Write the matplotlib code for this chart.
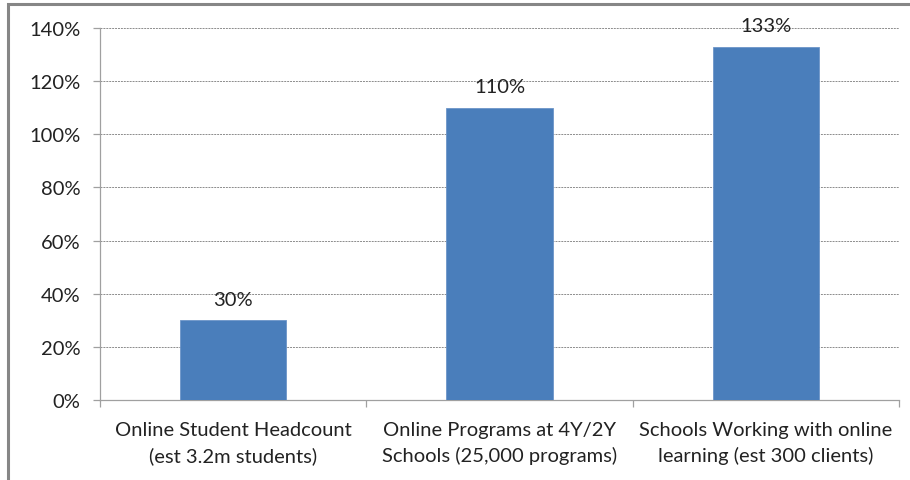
import matplotlib
matplotlib.use("Agg")
import matplotlib.pyplot as plt
from matplotlib.patches import Rectangle
from matplotlib.ticker import MultipleLocator, FuncFormatter, FixedLocator

categories = ["Online Student Headcount\n(est 3.2m students)",
              "Online Programs at 4Y/2Y\nSchools (25,000 programs)",
              "Schools Working with online\nlearning (est 300 clients)"]
values = [30, 110, 133]
value_labels = ["30%", "110%", "133%"]

plt.rcParams['font.family'] = ['Lato', 'DejaVu Sans']
FS = 14.5

fig = plt.figure(figsize=(9.10, 4.81), dpi=100)
# outer chart border (partly cropped)
fig.patches.append(Rectangle((8/910, -0.1), 1.2, 1 - 5/481 + 0.1, transform=fig.transFigure,
                             fill=False, edgecolor='#868686', linewidth=2.2))

ax = fig.add_axes([100/910, 1 - 401/481, 799/910, 372/481])
x = list(range(len(values)))
ax.bar(x, values, width=0.4, color='#4A7EBB', edgecolor='#6C95C8', linewidth=0.6, zorder=3)
for xi, v, lab in zip(x, values, value_labels):
    ax.text(xi, v + 4.6, lab, ha='center', va='bottom', fontsize=FS, color='#222222', zorder=4)

ax.set_xlim(-0.5, 2.5)
ax.set_ylim(0, 140)
ax.yaxis.set_major_locator(MultipleLocator(20))
ax.yaxis.set_major_formatter(FuncFormatter(lambda v, p: f"{int(v)}%"))
ax.grid(axis='y', color='#8C8C8C', linestyle=(0, (2, 1)), linewidth=0.7, zorder=0)

ax.set_xticks(x)
ax.set_xticklabels(categories, fontsize=FS, color='#222222', linespacing=1.55)
ax.tick_params(axis='x', length=0, pad=15)
ax.xaxis.set_minor_locator(FixedLocator([-0.5, 0.5, 1.5, 2.5]))
ax.tick_params(axis='x', which='minor', length=5, color='#A0A0A0', width=0.9)
ax.tick_params(axis='y', length=5, color='#A0A0A0', width=0.9, labelsize=FS, labelcolor='#222222', pad=9)

for s in ['top', 'right']:
    ax.spines[s].set_visible(False)
for s in ['left', 'bottom']:
    ax.spines[s].set_color('#A0A0A0')
    ax.spines[s].set_linewidth(0.9)

fig.savefig("out.png", dpi=100)
